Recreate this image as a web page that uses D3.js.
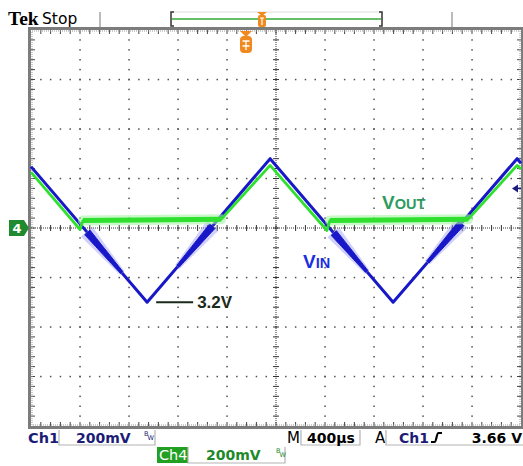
<!DOCTYPE html>
<html><head><meta charset="utf-8">
<script src="https://cdn.jsdelivr.net/npm/d3@7"></script>
<style>body{margin:0;background:#fff}svg{display:block}</style>
</head><body>
<svg id="c" width="523" height="466"></svg>
<script>
// ---- data (time in divisions, volts; 200 mV/div, screen centre = 3.5 V) ----
const vinT  = [0, 2.37, 4.88, 7.39, 9.92, 10];
const vinV  = [3.748, 3.20, 3.78, 3.20, 3.78, 3.762];
const voutT = [0, 1.0, 1.06, 3.88, 4.88, 6.04, 6.10, 8.92, 9.92, 10];
const voutV = [3.726, 3.494, 3.530, 3.535, 3.753, 3.490, 3.530, 3.535, 3.753, 3.738];
const flatRanges = [[1.06, 3.88], [6.10, 8.92]];          // VOUT clamped parts
const vinNoise = [[1.15, 1.85], [3.70, 3.00], [6.18, 6.85], [8.78, 8.10]]; // [thick end, thin end]
const troughLabel = "3.2V";
const triggerLevel = 3.66;
const ch1Scale = "200mV", ch4Scale = "200mV", timeBase = "400µs", trigText = "3.66 V";

const svg = d3.select("#c");
const X0 = 31, X1 = 521, Y0 = 30, Y1 = 426;
const x = d3.scaleLinear().domain([0, 10]).range([X0, X1]);
const y = d3.scaleLinear().domain([2.7, 4.3]).range([Y1, Y0]);
const yd = d3.scaleLinear().domain([-4, 4]).range([Y1, Y0]);
const vinAt = d3.scaleLinear().domain(vinT).range(vinV);

// ---- graticule ----
const g = svg.append("g");
const dots = [];
for (let i = 1; i < 10; i++) { if (i === 5) continue;
  for (let k = 1; k < 40; k++) dots.push([x(i), yd(-4 + k * 0.2)]); }
for (let j = 1; j < 8; j++) { if (j === 4) continue;
  for (let k = 1; k < 50; k++) dots.push([x(k * 0.2), yd(j - 4)]); }
g.selectAll("rect.dot").data(dots).join("rect").attr("class", "dot")
  .attr("x", d => d[0] - 0.7).attr("y", d => d[1] - 0.7).attr("width", 1.5).attr("height", 1.5).attr("fill", "#505050");
// centre cross
g.append("line").attr("x1", X0).attr("x2", X1).attr("y1", yd(0)).attr("y2", yd(0))
  .attr("stroke", "#333").attr("stroke-width", 1).attr("stroke-dasharray", "1,1");
g.append("line").attr("y1", Y0).attr("y2", Y1).attr("x1", x(5)).attr("x2", x(5))
  .attr("stroke", "#333").attr("stroke-width", 1).attr("stroke-dasharray", "1,1");
for (let k = 1; k < 50; k++) g.append("line").attr("x1", x(k * 0.2)).attr("x2", x(k * 0.2))
  .attr("y1", yd(0) - 3).attr("y2", yd(0) + 3).attr("stroke", "#333");
for (let k = 1; k < 40; k++) g.append("line").attr("y1", yd(-4 + k * 0.2)).attr("y2", yd(-4 + k * 0.2))
  .attr("x1", x(5) - 3).attr("x2", x(5) + 3).attr("stroke", "#333");
// border ticks
for (let k = 1; k < 50; k++) {
  g.append("line").attr("x1", x(k * 0.2)).attr("x2", x(k * 0.2)).attr("y1", Y0).attr("y2", Y0 + 4).attr("stroke", "#444");
  g.append("line").attr("x1", x(k * 0.2)).attr("x2", x(k * 0.2)).attr("y1", Y1 - 4).attr("y2", Y1).attr("stroke", "#444");
}
for (let k = 1; k < 40; k++) {
  g.append("line").attr("y1", yd(-4 + k * 0.2)).attr("y2", yd(-4 + k * 0.2)).attr("x1", X0).attr("x2", X0 + 4).attr("stroke", "#444");
  g.append("line").attr("y1", yd(-4 + k * 0.2)).attr("y2", yd(-4 + k * 0.2)).attr("x1", X1 - 4).attr("x2", X1).attr("stroke", "#444");
}
g.append("rect").attr("x", X0 + 1).attr("y", Y0 + 1).attr("width", X1 - X0 - 2).attr("height", Y1 - Y0 - 2)
  .attr("fill", "none").attr("stroke", "#999").attr("stroke-dasharray", "1,1");
g.append("rect").attr("x", X0 - 1.5).attr("y", Y0 - 1.5).attr("width", X1 - X0 + 3).attr("height", Y1 - Y0 + 3)
  .attr("fill", "none").attr("stroke", "#7c7c7c").attr("stroke-width", 3);

// ---- traces ----
const line = d3.line().x(d => x(d[0])).y(d => y(d[1]));
const vin = vinT.map((t, i) => [t, vinV[i]]);
const vout = voutT.map((t, i) => [t, voutV[i]]);

function taper(t0, t1, w0, w1) {
  const n = 20, L = [], R = [];
  const p0 = [x(t0), y(vinAt(t0))], p1 = [x(t1), y(vinAt(t1))];
  const dx = p1[0] - p0[0], dy = p1[1] - p0[1], len = Math.hypot(dx, dy);
  const nx = -dy / len, ny = dx / len;
  for (let i = 0; i <= n; i++) {
    const f = i / n, px = p0[0] + dx * f, py = p0[1] + dy * f, w = (w0 + (w1 - w0) * f) / 2;
    L.push([px + nx * w, py + ny * w]); R.unshift([px - nx * w, py - ny * w]);
  }
  return "M" + L.concat(R).map(p => p.join(",")).join("L") + "Z";
}
const tg = svg.append("g");
vinNoise.forEach(([a, b]) => {
  tg.append("path").attr("d", taper(a, b, 13, 4)).attr("fill", "#9a9af2").attr("opacity", 0.45)
    .attr("stroke", "#9a9af2").attr("stroke-width", 2).attr("stroke-linejoin", "round");
  tg.append("path").attr("d", taper(a, b, 7, 3)).attr("fill", "#1818c8")
    .attr("stroke", "#1818c8").attr("stroke-width", 1).attr("stroke-linejoin", "round");
});

flatRanges.forEach(([a, b]) => {
  const pts = vout.filter(d => d[0] >= a && d[0] <= b);
  tg.append("path").datum(pts).attr("d", line).attr("fill", "none").attr("stroke", "#a4f2a4")
    .attr("stroke-width", 10).attr("opacity", 0.6).attr("stroke-linecap", "round");
});
tg.append("path").datum(vout).attr("d", line).attr("fill", "none").attr("stroke", "#2fe02f")
  .attr("stroke-width", 2.8).attr("stroke-linejoin", "round");
flatRanges.forEach(([a, b]) => {
  const pts = vout.filter(d => d[0] >= a && d[0] <= b);
  tg.append("path").datum(pts).attr("d", line).attr("fill", "none").attr("stroke", "#2fe02f")
    .attr("stroke-width", 5);
});
// VIN drawn on top above the centre line, under the green where it is clamped
tg.insert("path", ":first-child").datum(vin).attr("d", line).attr("fill", "none").attr("stroke", "#1818c8")
  .attr("stroke-width", 3).attr("stroke-linejoin", "round");

// ---- annotations ----
const tX = vinT[1];
svg.append("line").attr("x1", x(tX) + 9).attr("x2", x(tX) + 46).attr("y1", y(3.2)).attr("y2", y(3.2))
  .attr("stroke", "#1b2a1b").attr("stroke-width", 2);
svg.append("text").attr("x", x(tX) + 50).attr("y", y(3.2) + 6).text(troughLabel)
  .attr("font-family", "Liberation Sans, Arial, sans-serif").attr("font-weight", "bold").attr("font-size", 17).attr("fill", "#1b2a1b");

function smallCaps(xp, yp, big, small, col) {
  const t = svg.append("text").attr("x", xp).attr("y", yp).attr("fill", col)
    .attr("font-family", "Liberation Sans, Arial, sans-serif").attr("font-weight", "bold");
  t.append("tspan").attr("font-size", 19).text(big);
  t.append("tspan").attr("font-size", 14.5).text(small);
}
smallCaps(382, 209, "V", "OUT", "#2e9b5e");
smallCaps(303, 268, "V", "IN", "#1c2fe0");

// trigger level arrow (right)
const ty = y(triggerLevel);
svg.append("path").attr("d", `M${X1 - 9},${ty} L${X1 - 3},${ty - 4} L${X1 - 3},${ty + 4} Z`).attr("fill", "#1a1a80");
svg.append("line").attr("x1", X1 - 4).attr("x2", X1).attr("y1", ty).attr("y2", ty).attr("stroke", "#1a1a80").attr("stroke-width", 1.5);

// Ch4 marker
const my = yd(0);
svg.append("path").attr("d", `M9,${my - 8} L24,${my - 8} L29,${my} L24,${my + 8} L9,${my + 8} Z`).attr("fill", "#1f8a2f");
svg.append("text").attr("x", 17).attr("y", my + 5).attr("text-anchor", "middle").text("4")
  .attr("font-family", "DejaVu Sans, sans-serif").attr("font-weight", "bold").attr("font-size", 13).attr("fill", "#fff");

// ---- header ----
svg.append("text").attr("x", 8).attr("y", 25).text("Tek")
  .attr("font-family", "Liberation Serif, serif").attr("font-weight", "bold").attr("font-size", 19.5).attr("fill", "#000");
svg.append("text").attr("x", 42).attr("y", 24).text("Stop")
  .attr("font-family", "DejaVu Sans, sans-serif").attr("font-size", 15.5).attr("fill", "#000");
[100, 452].forEach(xx => svg.append("line").attr("x1", xx).attr("x2", xx).attr("y1", 12).attr("y2", 27)
  .attr("stroke", "#bbb").attr("stroke-width", 2));
svg.append("line").attr("x1", 172).attr("x2", 381).attr("y1", 12).attr("y2", 12).attr("stroke", "#ddd");
svg.append("line").attr("x1", 172).attr("x2", 381).attr("y1", 19).attr("y2", 19).attr("stroke", "#3a3").attr("stroke-width", 1.3);
svg.append("path").attr("d", "M174,12 L171,12 L171,26 L174,26").attr("fill", "none").attr("stroke", "#333").attr("stroke-width", 1.5);
svg.append("path").attr("d", "M379,12 L382,12 L382,26 L379,26").attr("fill", "none").attr("stroke", "#333").attr("stroke-width", 1.5);
// record trigger marker
svg.append("path").attr("d", "M257,12 L267,12 L262,16 Z").attr("fill", "#f08a1e");
svg.append("rect").attr("x", 258).attr("y", 15).attr("width", 8).attr("height", 12).attr("rx", 2).attr("fill", "#f08a1e");
svg.append("path").attr("d", "M260,18 L264,18 M262,18 L262,25").attr("stroke", "#fff").attr("stroke-width", 1.2);
// trigger position marker in graticule
svg.append("path").attr("d", "M240,31 L252,31 L246,37 Z").attr("fill", "#f08a1e");
svg.append("rect").attr("x", 240).attr("y", 36).attr("width", 12).attr("height", 17).attr("rx", 4).attr("fill", "#f08a1e");
svg.append("path").attr("d", "M242.5,41 L249.5,41 M246,41 L246,50 M242.5,46 L249.5,46").attr("stroke", "#fff").attr("stroke-width", 1.3);

// ---- status bar ----
const F = "DejaVu Sans, sans-serif";
function txt(xp, yp, s, col, opts = {}) {
  return svg.append("text").attr("x", xp).attr("y", yp).text(s).attr("fill", col)
    .attr("font-family", F).attr("font-size", opts.size || 14).attr("font-weight", opts.w || "bold")
    .attr("text-anchor", opts.anchor || "start");
}
function box(x0, x1, y0, y1) {
  svg.append("path").attr("d", `M${x0},${y0} L${x0},${y1} L${x1},${y1} L${x1},${y0}`)
    .attr("fill", "none").attr("stroke", "#b4b4b4").attr("stroke-width", 1.2);
}
function bw(xp, yp, col) {
  txt(xp, yp, "B", col, { size: 6.5, w: "normal" });
  txt(xp + 3.5, yp + 4, "W", col, { size: 6.5, w: "normal" });
}
const navy = "#1c1c78";
txt(28, 443, "Ch1", navy, { w: "bold", size: 14.5 });
box(59, 155, 430, 445);
txt(76, 443, ch1Scale, navy, { size: 14 });
bw(144, 436, navy);
txt(287, 443, "M", "#000", { w: "normal", size: 15 });
box(301, 360, 430, 445);
txt(307, 443, timeBase, "#000", { size: 14 });
txt(375, 443, "A", "#000", { w: "normal", size: 15 });
box(386, 524, 430, 445);
txt(399, 443, "Ch1", navy, { size: 14 });
svg.append("path").attr("d", "M431,442 L434.5,442 C436.5,442 436.5,433 438.5,433 L442,433")
  .attr("fill", "none").attr("stroke", "#000").attr("stroke-width", 2.2);
txt(522, 443, trigText, "#000", { size: 14, anchor: "end" });

svg.append("rect").attr("x", 157).attr("y", 447).attr("width", 31).attr("height", 16).attr("fill", "#22a022");
txt(159, 460, "Ch4", "#fff", { w: "normal", size: 14.5 });
box(188, 285, 447, 463);
txt(206, 460, ch4Scale, "#1d8a2a", { size: 14 });
bw(276, 453, "#1d8a2a");
</script>
</body></html>
